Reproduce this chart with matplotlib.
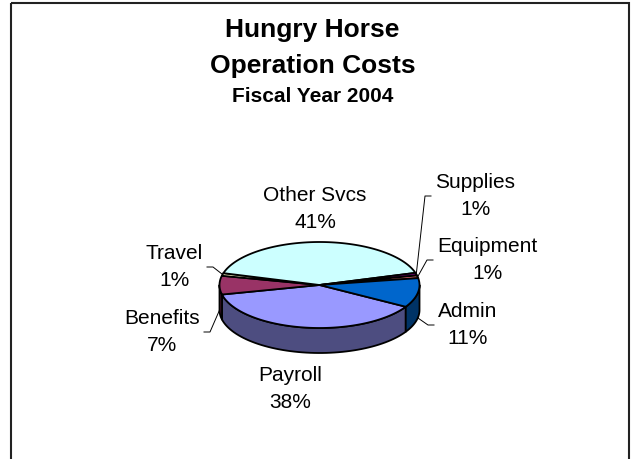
import numpy as np
import matplotlib.pyplot as plt
from matplotlib.patches import Polygon, Rectangle

plt.rcParams['font.family'] = ['Liberation Sans', 'DejaVu Sans']

# slices in the clockwise order the spreadsheet drew them
labels = ['Payroll', 'Benefits', 'Travel', 'Other Svcs', 'Supplies', 'Equipment', 'Admin']
values = [38, 7, 1, 41, 1, 1, 11]
colors = ['#9999FF', '#993366', '#FFFFCC', '#CCFFFF', '#660066', '#FF8080', '#0066CC']

title_lines = ['Hungry Horse', 'Operation Costs', 'Fiscal Year 2004']

# layout (pixels): pie ellipse, label spots
cx, cy, rx, ry, depth = 319.5, 285, 100, 43, 25
start_angle = -30.4
label_spots = {
    'Payroll': (290, 389, 'center'),
    'Benefits': (200, 332, 'right'),
    'Travel': (203, 267, 'right'),
    'Other Svcs': (315, 209, 'center'),
    'Supplies': (435, 196, 'left'),
    'Equipment': (437, 260, 'left'),
    'Admin': (438, 325, 'left'),
}

W, H = 632, 459
fig = plt.figure(figsize=(W / 100, H / 100), dpi=100)
ax = fig.add_axes([0, 0, 1, 1])
ax.set_xlim(0, W)
ax.set_ylim(H, 0)
ax.axis('off')

# chart frame
ax.add_patch(Rectangle((11, 3), 618, 470, fill=False, lw=1.5, ec='#222222'))


def rim(angles, dy=0.0):
    a = np.radians(angles)
    return np.column_stack([cx + rx * np.cos(a), cy - ry * np.sin(a) + dy])


def darker(c, f=0.5):
    rgb = np.array(plt.matplotlib.colors.to_rgb(c))
    return tuple(rgb * f)


total = float(sum(values))
bounds = []
a = start_angle
for v in values:
    b = a - v / total * 360
    bounds.append((b, a))
    a = b

# sides first (front half only: angles where sin < 0)
for (lo, hi), col in zip(bounds, colors):
    for flo, fhi in [(-180, 0), (-540, -360)]:
        s, e = max(lo, flo), min(hi, fhi)
        if e <= s:
            continue
        t = np.linspace(s, e, 60)
        pts = np.vstack([rim(t), rim(t[::-1], depth)])
        ax.add_patch(Polygon(pts, closed=True, fc=darker(col), ec='black', lw=1.3, joinstyle='round'))

# top faces
for (lo, hi), col in zip(bounds, colors):
    t = np.linspace(lo, hi, max(int(hi - lo) * 2, 4))
    pts = np.vstack([[cx, cy], rim(t)])
    ax.add_patch(Polygon(pts, closed=True, fc=col, ec='black', lw=1.3, joinstyle='round'))

# labels with leader lines
for name, v, (lo, hi) in zip(labels, values, bounds):
    x, y, ha = label_spots[name]
    ax.text(x, y, f'{name}\n{v}%', ha=ha, va='center', multialignment='center',
            fontsize=15, linespacing=1.52)
    if ha == 'center':
        continue
    m = np.radians((lo + hi) / 2)
    px = cx + rx * np.cos(m)
    py = cy - ry * np.sin(m) + (depth if np.sin(m) < 0 else 0)
    sgn = -1 if ha == 'left' else 1
    ax.plot([px, x + sgn * 10, x + sgn * 4], [py, y, y], color='black', lw=0.7)

ax.text(312.5, 36.5, title_lines[0], ha='center', va='baseline', fontsize=19, fontweight='bold')
ax.text(312.5, 73, title_lines[1], ha='center', va='baseline', fontsize=19, fontweight='bold')
ax.text(312.5, 101.5, title_lines[2], ha='center', va='baseline', fontsize=15, fontweight='bold')

fig.savefig('out.png', dpi=100)
